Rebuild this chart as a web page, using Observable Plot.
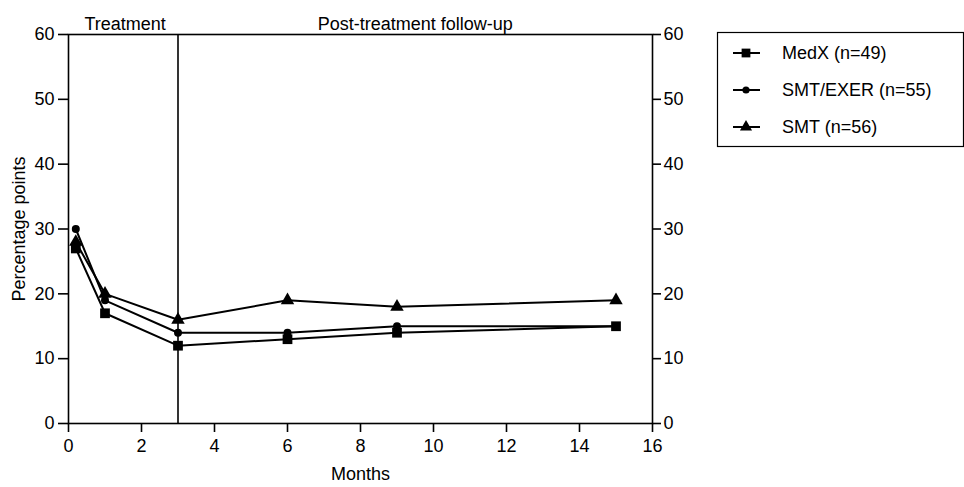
<!DOCTYPE html>
<html>
<head>
<meta charset="utf-8">
<script src="https://cdn.jsdelivr.net/npm/d3@7"></script>
<script src="https://cdn.jsdelivr.net/npm/@observablehq/plot@0.6"></script>
<style>
  html, body { margin: 0; padding: 0; background: #fff; }
  body { font-family: "Liberation Sans", Arial, Helvetica, sans-serif; }
  #wrap { position: relative; width: 964px; height: 487px; overflow: hidden; }
  #legend { position: absolute; left: 0; top: 0; }
</style>
</head>
<body>
<div id="wrap"></div>
<script>
// ---- data ----
const months = [0.2, 1, 3, 6, 9, 15];
const medx = [27, 17, 12, 13, 14, 15];
const smtExer = [30, 19, 14, 14, 15, 15];
const smt = [28, 20, 16, 19, 18, 19];
const seriesNames = ["MedX (n=49)", "SMT/EXER (n=55)", "SMT (n=56)"];
const seriesSymbols = ["square", "circle", "triangle"];
const seriesSizes = [5.5, 4, 5];
const xTicks = [0, 2, 4, 6, 8, 10, 12, 14, 16];
const yTicks = [0, 10, 20, 30, 40, 50, 60];
const phaseLabels = ["Treatment", "Post-treatment follow-up"];
const phaseCenters = [1.55, 9.5];
const phaseBoundary = [3];

const seriesValues = [medx, smtExer, smt];
const data = [];
seriesNames.forEach((name, s) => {
  months.forEach((m, i) => data.push({series: name, month: m, value: seriesValues[s][i], size: seriesSizes[s]}));
});

const FS = 18;
const W = 964, H = 487;
const chart = Plot.plot({
  width: W,
  height: H,
  marginLeft: 68,
  marginRight: 312,
  marginTop: 34,
  marginBottom: 64,
  style: {fontFamily: "'Liberation Sans', Arial, sans-serif", fontSize: FS + "px", color: "#000", background: "#fff", overflow: "visible"},
  x: {domain: [0, 16]},
  y: {domain: [0, 60]},
  r: {type: "identity"},
  symbol: {domain: seriesNames, range: seriesSymbols},
  marks: [
    Plot.frame({stroke: "#000", strokeWidth: 1.6}),
    Plot.ruleX(phaseBoundary, {stroke: "#000", strokeWidth: 1.6}),
    Plot.axisX({ticks: xTicks, tickSize: 9, tickPadding: 7, tickFormat: d => String(d), fontSize: FS,
      label: "Months", labelAnchor: "center", labelArrow: "none", labelOffset: 56, strokeWidth: 1.6}),
    Plot.axisY({anchor: "left", ticks: yTicks, tickSize: 10, tickPadding: 4, tickFormat: d => String(d), fontSize: FS,
      label: "Percentage points", labelAnchor: "center", labelArrow: "none", labelOffset: 56, strokeWidth: 1.6}),
    Plot.axisY({anchor: "right", ticks: yTicks, tickSize: 8, tickPadding: 3, tickFormat: d => String(d), fontSize: FS, label: null, strokeWidth: 1.6}),
    Plot.line(data, {x: "month", y: "value", z: "series", stroke: "#000", strokeWidth: 2}),
    Plot.dot(data, {x: "month", y: "value", symbol: "series", r: "size", fill: "#000", stroke: "none"}),
    Plot.text(phaseLabels, {x: (d, i) => phaseCenters[i], frameAnchor: "top", dy: -17, text: d => d, fontSize: FS})
  ]
});
document.getElementById("wrap").appendChild(chart);

// ---- legend ----
const lg = d3.select("#wrap").append("svg")
  .attr("id", "legend").attr("width", W).attr("height", H)
  .style("pointer-events", "none");
const box = {x: 717, y: 32, w: 246, h: 114};
lg.append("rect").attr("x", box.x + 0.5).attr("y", box.y + 0.5).attr("width", box.w).attr("height", box.h)
  .attr("fill", "none").attr("stroke", "#000").attr("stroke-width", 1.2);
const symMap = {square: d3.symbolSquare, circle: d3.symbolCircle, triangle: d3.symbolTriangle};
seriesNames.forEach((name, i) => {
  const cy = box.y + 21 + i * 37;
  lg.append("line").attr("x1", 733).attr("x2", 760).attr("y1", cy).attr("y2", cy)
    .attr("stroke", "#000").attr("stroke-width", 2);
  const r = seriesSizes[i] * 0.9;
  lg.append("path").attr("transform", `translate(746,${cy})`)
    .attr("d", d3.symbol(symMap[seriesSymbols[i]], Math.PI * r * r)()).attr("fill", "#000");
  lg.append("text").attr("x", 782).attr("y", cy).attr("dy", "0.35em")
    .attr("font-family", "'Liberation Sans', Arial, sans-serif").attr("font-size", FS)
    .attr("fill", "#000").text(name);
});
</script>
</body>
</html>
